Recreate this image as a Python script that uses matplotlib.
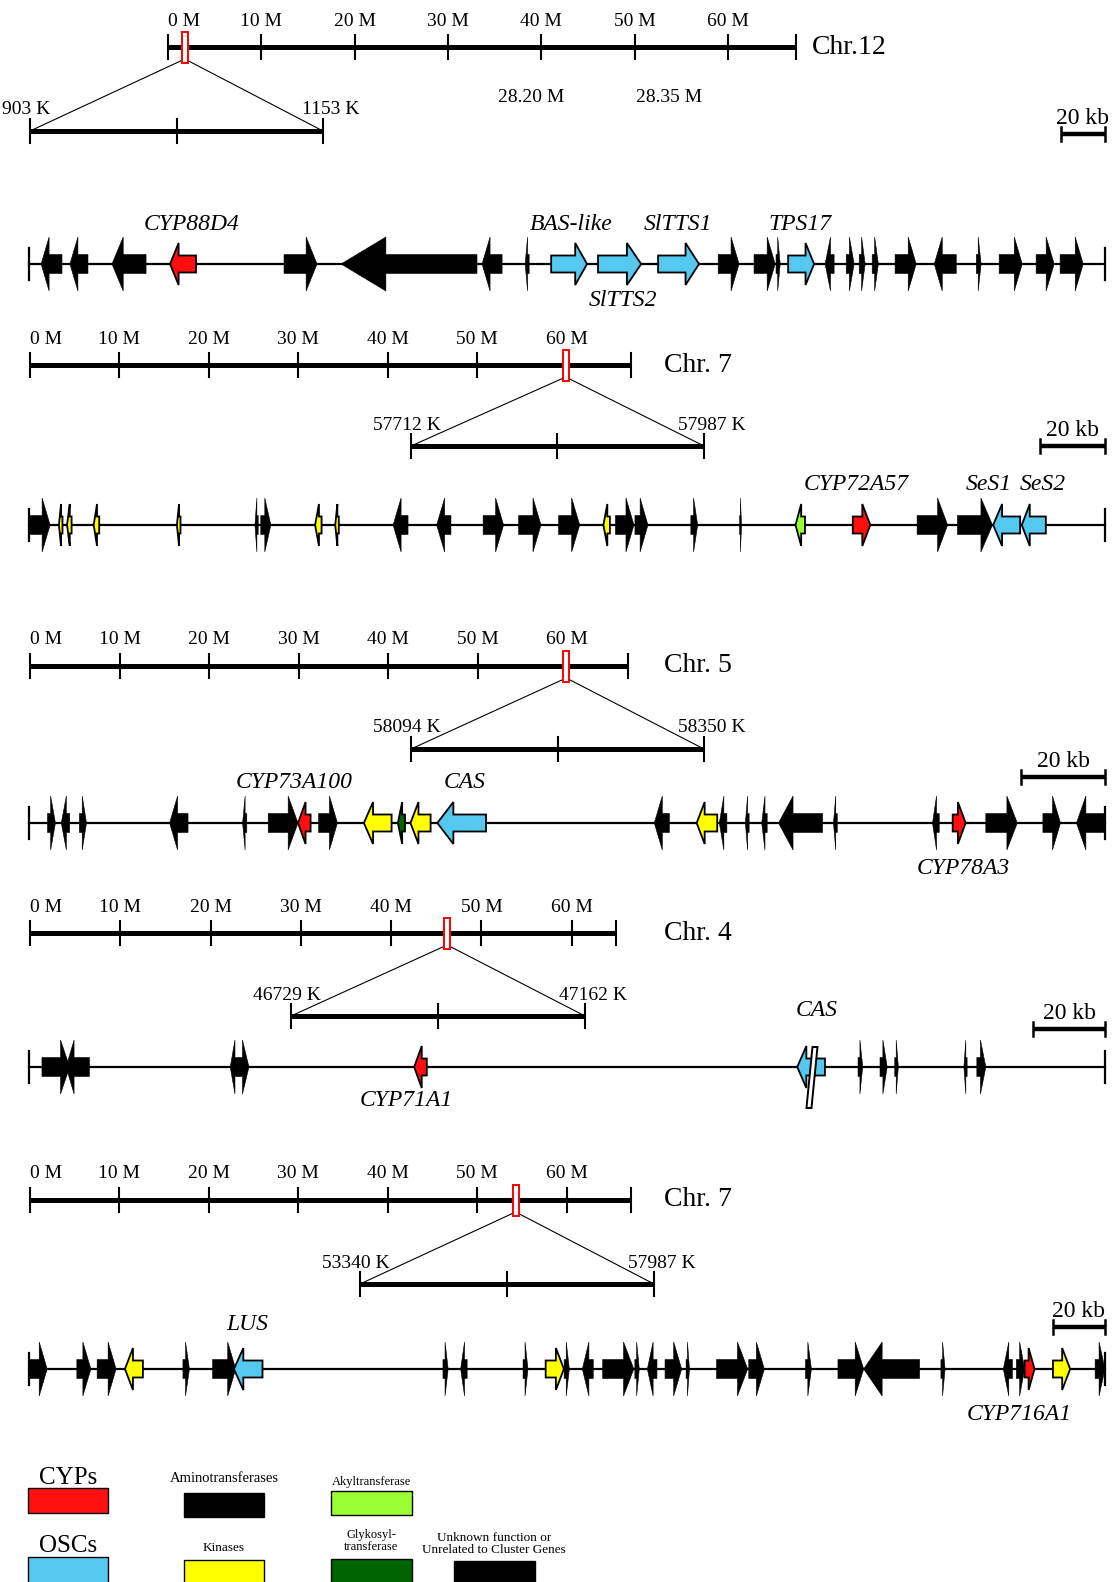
import matplotlib
matplotlib.use("Agg")
import matplotlib.pyplot as plt
from matplotlib import transforms
from matplotlib.patches import Polygon, Rectangle, ConnectionPatch

plt.rcParams["font.family"] = ["Liberation Serif", "DejaVu Serif"]

# ---------------- data ----------------
chr_names = ["Chr.12", "Chr. 7", "Chr. 5", "Chr. 4", "Chr. 7"]
chr_len_mb = [67.3, 67.2, 66.8, 64.9, 67.2]
chr_ticks_mb = [0, 10, 20, 30, 40, 50, 60]
box_mb = [1.8, 59.9, 59.9, 46.2, 54.3]
region_start_k = [903, 57712, 58094, 46729, 53340]
region_end_k = [1153, 57987, 58350, 47162, 57987]
stray_labels = ["28.20 M", "28.35 M"]
track_len_kb = [489.0, 331.0, 256.4, 298.9, 413.8]
scale_kb = 20

# gene types: U unknown/aminotransferase, C CYP, O OSC, K kinase, A akyltransferase, G glykosyltransferase
t1_start = [5.5, 18.6, 37.7, 64.1, 115.9, 141.8, 205.9, 225.5, 237.3, 258.6, 285.9, 313.2, 329.5,
            339.5, 345.0, 361.8, 371.4, 377.3, 383.2, 393.6, 411.4, 430.5, 440.9, 457.7, 468.6]
t1_end = [15.0, 26.8, 53.2, 75.9, 130.9, 203.6, 215.0, 227.3, 253.6, 278.2, 304.5, 322.7, 339.1,
          341.4, 356.8, 365.9, 375.0, 380.0, 386.0, 403.2, 421.4, 432.7, 451.4, 465.9, 479.1]
t1_strand = [-1, -1, -1, -1, 1, -1, -1, -1, 1, 1, 1, 1, 1, 1, 1, -1, 1, 1, 1, 1, -1, 1, 1, 1, 1]
t1_type = list("UUUCUUUUOOOUUUOUUUUUUUUUU")
t1_labels = ["CYP88D4", "BAS-like", "SlTTS1", "TPS17", "SlTTS2"]
t1_label_kb = [74.0, 246.4, 295.0, 350.5, 270.0]

t2_start = [0.0, 9.2, 11.7, 19.9, 45.5, 69.5, 71.3, 88.0, 94.2, 112.0, 125.4, 139.7, 150.6,
            162.9, 176.7, 180.4, 186.4, 203.6, 218.6, 235.8, 253.4, 273.2, 285.6, 296.6, 305.4]
t2_end = [6.5, 10.3, 13.1, 21.6, 46.6, 70.5, 74.4, 90.0, 95.3, 116.6, 129.8, 146.0, 157.5,
          169.4, 178.7, 186.1, 190.4, 205.7, 219.2, 238.7, 258.8, 282.6, 296.4, 304.9, 312.8]
t2_strand = [1, -1, -1, -1, -1, -1, 1, -1, -1, -1, -1, 1, 1, 1, -1, 1, 1, 1, 1, -1, 1, 1, 1, -1, -1]
t2_type = list("UKKKKUUKKUUUUUKUUUUACUUOO")
t2_labels = ["CYP72A57", "SeS1", "SeS2"]
t2_label_kb = [254.5, 295.4, 312.0]

t3_start = [4.4, 7.7, 12.0, 33.5, 50.9, 57.0, 64.1, 69.0, 79.8, 87.9, 90.9, 97.3, 149.0,
            159.1, 164.5, 170.7, 174.6, 178.6, 191.7, 215.3, 220.1, 228.0, 241.6, 249.6]
t3_end = [6.3, 9.7, 13.7, 37.9, 51.9, 64.1, 67.1, 73.5, 86.4, 89.6, 95.7, 108.9, 152.6,
          164.0, 166.3, 171.6, 175.9, 189.1, 192.6, 216.9, 223.2, 235.5, 245.8, 256.4]
t3_strand = [1, -1, 1, -1, -1, 1, -1, 1, -1, -1, -1, -1, -1, -1, -1, -1, -1, -1, -1, -1, 1, 1, 1, -1]
t3_type = list("UUUUUUCUKGKOUKUUUUUUCUUU")
t3_labels = ["CYP73A100", "CAS", "CYP78A3"]
t3_label_kb = [63.3, 103.8, 222.6]

t4_start = [3.6, 10.3, 55.9, 58.1, 107.0, 213.4, 230.3, 236.4, 240.5, 259.7, 263.3]
t4_end = [11.3, 16.8, 58.1, 61.1, 110.5, 221.1, 231.6, 238.4, 241.5, 260.6, 265.8]
t4_strand = [1, -1, -1, 1, -1, -1, 1, 1, 1, -1, 1]
t4_type = list("UUUUCOUUUUU")
t4_labels = ["CAS", "CYP71A1"]
t4_label_kb = [218.9, 104.7]
t4_break_kb = 217.5

t5_start = [0.0, 18.4, 26.2, 36.9, 59.2, 70.6, 78.8, 159.2, 166.0, 190.0, 198.7, 205.8, 212.8,
            220.6, 233.0, 237.8, 244.6, 252.7, 264.4, 276.8, 298.6, 311.1, 321.0, 350.7, 374.7,
            379.7, 382.9, 393.8, 410.0]
t5_end = [7.0, 23.8, 33.5, 43.8, 61.7, 79.5, 89.8, 161.2, 168.5, 191.9, 205.7, 207.8, 217.0,
          232.6, 234.7, 241.5, 251.0, 254.0, 276.4, 282.8, 300.9, 321.0, 342.5, 352.3, 378.2,
          382.9, 386.7, 400.4, 413.8]
t5_strand = [1, 1, 1, -1, 1, 1, -1, 1, -1, 1, 1, 1, -1, 1, 1, -1, 1, 1, 1, 1, 1, 1, -1, 1, -1,
             1, 1, 1, 1]
t5_type = list("UUUKUUOUUUKUUUUUUUUUUUUUUUCKU")
t5_labels = ["LUS", "CYP716A1"]
t5_label_kb = [83.8, 380.8]

legend_names = ["CYPs", "Aminotransferases", "Akyltransferase", "OSCs", "Kinases",
                "Glykosyl-\ntransferase", "Unknown function or\nUnrelated to Cluster Genes"]
legend_types = ["C", "U", "A", "O", "K", "G", "U"]

COLORS = {"U": "black", "C": "#ff1010", "O": "#55c8f0", "K": "#ffff00",
          "A": "#99ff33", "G": "#006400"}

# ---------------- layout (pixels) ----------------
W, H = 1116, 1582
chr_x0 = [168, 30, 30, 30, 30]
chr_x1 = [796, 631, 628, 616, 631]
chr_y = [47, 365, 666, 933, 1200]
chr_name_x = [812, 664, 664, 664, 664]
reg_x0 = [30, 411, 411, 291, 360]
reg_x1 = [323, 704, 704, 585, 654]
reg_y = [131, 446, 749, 1016, 1284]
trk_x0, trk_x1 = 29, 1105
trk_y = [264, 525, 823, 1067, 1369]
sb_y = [134, 446, 777, 1029, 1327]
label_dy = [[-40, -40, -40, -40, 36], [-40, -40, -40], [-41, -41, 45], [-56, 33], [-45, 45]]

tracks = [
    (t1_start, t1_end, t1_strand, t1_type, t1_labels, t1_label_kb),
    (t2_start, t2_end, t2_strand, t2_type, t2_labels, t2_label_kb),
    (t3_start, t3_end, t3_strand, t3_type, t3_labels, t3_label_kb),
    (t4_start, t4_end, t4_strand, t4_type, t4_labels, t4_label_kb),
    (t5_start, t5_end, t5_strand, t5_type, t5_labels, t5_label_kb),
]

fig = plt.figure(figsize=(W / 100, H / 100), dpi=100)
bg = fig.add_axes([0, 0, 1, 1])
bg.set_xlim(0, W)
bg.set_ylim(H, 0)
bg.axis("off")


def scale_axes(x0, x1, lo, hi):
    a = fig.add_axes([x0 / W, 0.0, (x1 - x0) / W, 0.001])
    a.set_xlim(lo, hi)
    a.axis("off")
    return transforms.blended_transform_factory(a.transData, bg.transData)


def draw_gene(T, s, e, strand, kind, y, pxkb):
    lpx = (e - s) * pxkb
    hl = min(0.6 * lpx, max(8.0, 0.33 * lpx)) / pxkb
    bh, hh = (19, 54) if kind == "U" else (17, 42)
    if strand > 0:
        b, t = e - hl, e
        pts = [(s, y - bh / 2), (b, y - bh / 2), (b, y - hh / 2), (t, y),
               (b, y + hh / 2), (b, y + bh / 2), (s, y + bh / 2)]
    else:
        b, t = s + hl, s
        pts = [(e, y - bh / 2), (b, y - bh / 2), (b, y - hh / 2), (t, y),
               (b, y + hh / 2), (b, y + bh / 2), (e, y + bh / 2)]
    lw = 0.4 if kind == "U" else 1.3
    bg.add_patch(Polygon(pts, closed=True, transform=T, fc=COLORS[kind],
                         ec="black", lw=lw, zorder=3))


for i in range(5):
    # chromosome overview
    L = chr_len_mb[i]
    Tc = scale_axes(chr_x0[i], chr_x1[i], 0, L)
    y = chr_y[i]
    bg.plot([0, L], [y, y], transform=Tc, color="black", lw=3.6, solid_capstyle="butt")
    for m in chr_ticks_mb + [L]:
        bg.plot([m, m], [y - 12, y + 12], transform=Tc, color="black", lw=1.5)
    for m in chr_ticks_mb:
        bg.text(m, y - 26, f"{m} M", transform=Tc, fontsize=14,
                ha="left" if m == 0 else "center", va="center")
    pxmb = (chr_x1[i] - chr_x0[i]) / L
    bw = 6 / pxmb
    bg.add_patch(Rectangle((box_mb[i] - bw / 2, y - 15), bw, 31, transform=Tc,
                           fc="white", ec="red", lw=1.4, zorder=4))
    bg.text(chr_name_x[i], y, chr_names[i], fontsize=20, ha="left", va="center")

    # zoomed region bar
    rs, re_ = region_start_k[i], region_end_k[i]
    Tr = scale_axes(reg_x0[i], reg_x1[i], rs, re_)
    ry = reg_y[i]
    bg.plot([rs, re_], [ry, ry], transform=Tr, color="black", lw=3.6, solid_capstyle="butt")
    for k in (rs, (rs + re_) / 2, re_):
        bg.plot([k, k], [ry - 12, ry + 12], transform=Tr, color="black", lw=1.5)
    bg.text(rs, ry - 21, f"{rs} K", fontsize=14, ha="center", va="center",
            transform=transforms.offset_copy(Tr, fig=fig, x=-4, units="dots"))
    bg.text(re_, ry - 21, f"{re_} K", fontsize=14, ha="center", va="center",
            transform=transforms.offset_copy(Tr, fig=fig, x=8, units="dots"))
    for k in (rs, re_):
        bg.add_artist(ConnectionPatch(xyA=(box_mb[i], y + 12), coordsA=Tc,
                                      xyB=(k, ry), coordsB=Tr, color="black", lw=0.8))

    # gene track
    TL = track_len_kb[i]
    Tt = scale_axes(trk_x0, trk_x1, 0, TL)
    pxkb = (trk_x1 - trk_x0) / TL
    ty = trk_y[i]
    bg.plot([0, TL], [ty, ty], transform=Tt, color="black", lw=1.6, zorder=1)
    for k in (0, TL):
        bg.plot([k, k], [ty - 16, ty + 16], transform=Tt, color="black", lw=1.6, zorder=1)
    st, en, sd, tp, labs, lkb = tracks[i]
    for s, e, d, kind in zip(st, en, sd, tp):
        draw_gene(Tt, s, e, d, kind, ty, pxkb)
    for name, xk, dy in zip(labs, lkb, label_dy[i]):
        bg.text(xk, ty + dy, name, transform=Tt, fontsize=17, style="italic",
                ha="center", va="center")

    # 20 kb scale bar
    sy = sb_y[i]
    bg.plot([TL - scale_kb, TL], [sy, sy], transform=Tt, color="black", lw=3.2,
            solid_capstyle="butt")
    for k in (TL - scale_kb, TL):
        bg.plot([k, k], [sy - 7, sy + 7], transform=Tt, color="black", lw=1.8)
    bg.text(TL - scale_kb / 2, sy - 5, f"{scale_kb} kb", transform=Tt, fontsize=17,
            ha="center", va="bottom")

    if i == 3:
        off = 3 / pxkb
        half = 2.5 / pxkb
        xb = t4_break_kb
        bg.add_patch(Polygon([(xb - half + off, ty - 20), (xb + half + off, ty - 20),
                              (xb + half - off, ty + 41), (xb - half - off, ty + 41)],
                             closed=True, transform=Tt, fc="white", ec="black", lw=1.4, zorder=5))

# stray coordinate labels in the first panel
for txt, x in zip(stray_labels, [531, 669]):
    bg.text(x, 98, txt, fontsize=14, ha="center", va="center")

# legend
leg_text_xy = [(68, 1478), (224, 1478), (371, 1482), (68, 1546), (224, 1548), (371, 1541), (494, 1544)]
leg_box = [(28, 1488, 80, 25), (184, 1493, 80, 24), (331, 1491, 81, 24), (28, 1557, 80, 26),
           (184, 1560, 80, 23), (331, 1559, 81, 24), (454, 1561, 81, 22)]
leg_fs = [18, 10.5, 9, 18, 9.5, 9, 9.5]
for name, kind, (tx, tyy), (bx, by, bw_, bh_), fs in zip(legend_names, legend_types,
                                                         leg_text_xy, leg_box, leg_fs):
    bg.text(tx, tyy, name, fontsize=fs, ha="center", va="center", linespacing=0.95)
    bg.add_patch(Rectangle((bx, by), bw_, bh_, fc=COLORS[kind], ec="black", lw=1.0))

fig.savefig("out.png", dpi=100, facecolor="white")
plt.close(fig)
